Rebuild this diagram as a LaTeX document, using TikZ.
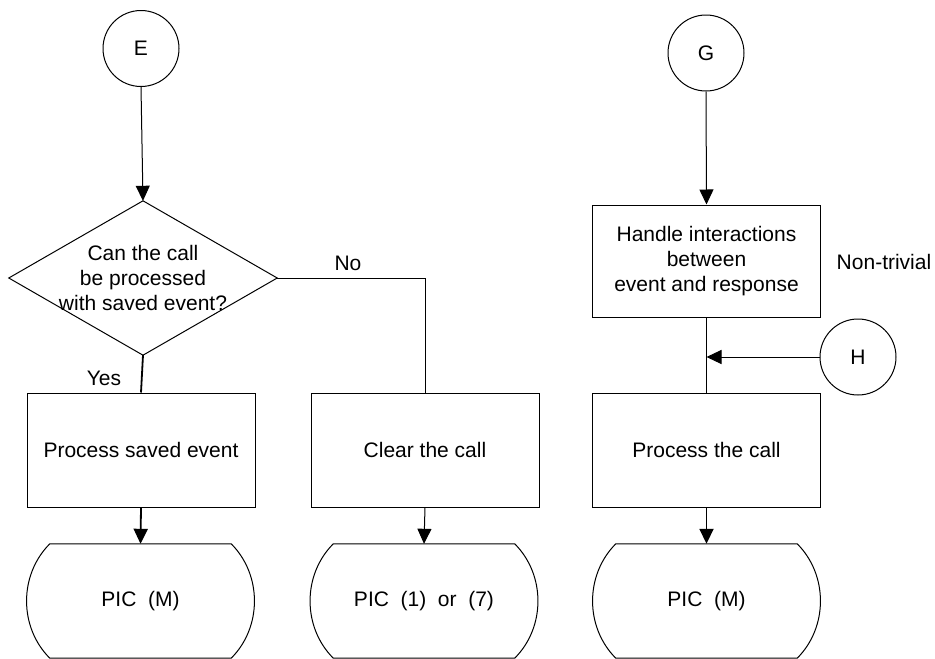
\documentclass[tikz,border=0pt]{standalone}
\usepackage{fontspec}
\setmainfont{Liberation Sans}
\usetikzlibrary{arrows.meta,calc}
\begin{document}
\begin{tikzpicture}[x=1pt,y=-1pt,
  every node/.style={font=\fontsize{21}{25}\selectfont, align=center, inner sep=0pt},
  thin line/.style={line width=1pt},
  heavy/.style={line width=1.8pt},
  tip/.style={-{Triangle[length=15pt,width=14pt]}},
  stepbox/.style={draw, line width=1pt, fill=white, minimum width=228pt, minimum height=114pt},
  picterm/.style={minimum width=227pt, minimum height=114pt},
  connector/.style={circle, draw, line width=1pt, minimum size=76pt}
]
\useasboundingbox (0,0) rectangle (935,659);

% left column
\node[connector] (E) at (141,48.5) {E};
\node[minimum width=268pt, minimum height=154pt] (dec) at (143,278) {Can the call\\be processed\\with saved event?};
\draw[thin line] (dec.north) -- (dec.east) -- (dec.south) -- (dec.west) -- cycle;
\node[stepbox] (pse) at (141,450) {Process saved event};
\node[stepbox] (clr) at (425,450) {Clear the call};
\node[picterm] (picL) at (140.5,601) {PIC\ \ (M)};
\node[picterm] (picM) at (424,601) {PIC\ \ (1)\ \ or\ \ (7)};
\node (yes) at (104,378) {Yes};
\node (no) at (348,263) {No};

% right column
\node[connector] (G) at (706,53) {G};
\node[stepbox, minimum height=112pt] (hdl) at (706.5,261) {Handle interactions\\between\\event and response};
\node (nt) at (884,262) {Non-trivial};
\node[stepbox] (pcl) at (706.5,450) {Process the call};
\node[connector] (H) at (858,357) {H};
\node[picterm] (picR) at (706.5,601) {PIC\ \ (M)};
\coordinate (J) at (hdl.south |- H.west);

% terminal outlines
\foreach \n in {picL,picM,picR} {
  \draw[thin line] ($(\n.north west)+(23,0)$) -- ($(\n.north east)+(-23,0)$)
    .. controls ($(\n.north east)+(8,31)$) and ($(\n.south east)+(8,-31)$) .. ($(\n.south east)+(-23,0)$)
    -- ($(\n.south west)+(23,0)$)
    .. controls ($(\n.south west)+(-8,-31)$) and ($(\n.north west)+(-8,31)$) .. cycle;
}

% connectors
\draw[thin line, tip] (E.south) -- (dec.north);
\draw[thin line] (dec.east) -| (clr.north);
\draw[heavy] (dec.south) -- (pse.north);
\draw[heavy, tip] (pse.south) -- (picL.north);
\draw[thin line, tip] (clr.south) -- (picM.north);

\draw[thin line, tip] (G.south) -- (hdl.north);
\draw[heavy] (hdl.south) -- (pcl.north);
\draw[thin line, tip] (H.west) -- (J);
\draw[heavy, tip] (pcl.south) -- (picR.north);
\end{tikzpicture}
\end{document}
